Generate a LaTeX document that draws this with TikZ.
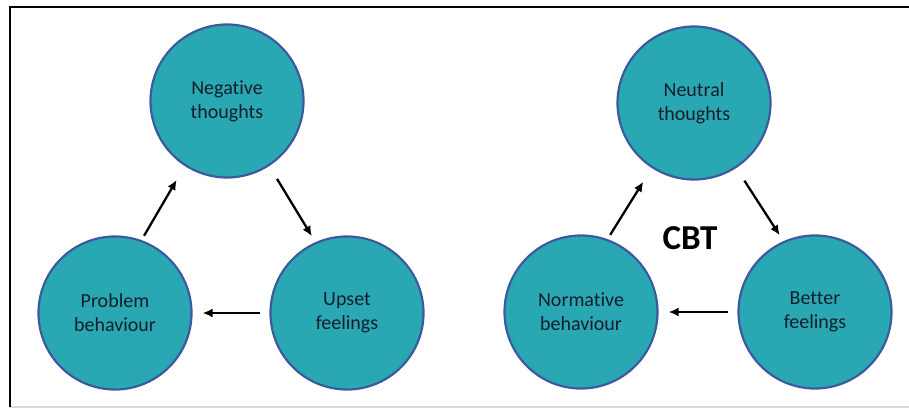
\documentclass[tikz,border=0pt]{standalone}
\usepackage{fontspec}
\setmainfont{Carlito}[Ligatures={NoCommon}]
\usepackage{tikz}
\usetikzlibrary{arrows.meta, positioning}
\definecolor{cteal}{HTML}{29A8B3}
\definecolor{cedge}{HTML}{3C5A9E}
\definecolor{ctext}{HTML}{141E2A}
\definecolor{cframe}{HTML}{DADADA}
\tikzset{
  cbox/.style={circle, draw=cedge, fill=cteal, line width=2.2pt,
               minimum size=153pt, inner sep=0pt, align=center, text=ctext,
               font=\fontsize{20}{24}\selectfont},
  arr/.style={-{Latex[length=10pt,width=9pt]}, line width=2.3pt, black},
}

\begin{document}
\begin{tikzpicture}[x=1pt, y=-1pt]
  \useasboundingbox (0,0) rectangle (909,409);
  % frame
  \draw[cframe, line width=1.2pt] (10,407) -- (909,407);
  \draw[black, line width=2pt] (10,407) -- (10,7) -- (909,7);

  % left cycle
  \node[cbox] (neg) at (227,101) {Negative\\thoughts};
  \node[cbox] (prob) at (115,313) {Problem\\behaviour};
  \node[cbox] (upset) at (347,313) {Upset\\feelings};

  \draw[arr, shorten <=5pt, shorten >=16pt] (prob.70) -- (neg.237);
  \draw[arr, shorten <=15pt, shorten >=7pt] (neg.303) -- (upset.114);
  \draw[arr, shorten <=9pt, shorten >=10pt] (upset.180) -- (prob.0);

  % right cycle
  \node[cbox] (neut) at (694,103) {Neutral\\thoughts};
  \node[cbox] (norm) at (581,312) {Normative\\behaviour};
  \node[cbox] (better) at (815,312) {Better\\feelings};

  \node[font=\fontsize{35}{40}\selectfont\bfseries] (cbt) at (690,238) {CBT};

  \draw[arr, shorten <=5pt, shorten >=16pt] (norm.70) -- (neut.237);
  \draw[arr, shorten <=15pt, shorten >=7pt] (neut.303) -- (better.114);
  \draw[arr, shorten <=9pt, shorten >=10pt] (better.180) -- (norm.0);
\end{tikzpicture}
\end{document}
